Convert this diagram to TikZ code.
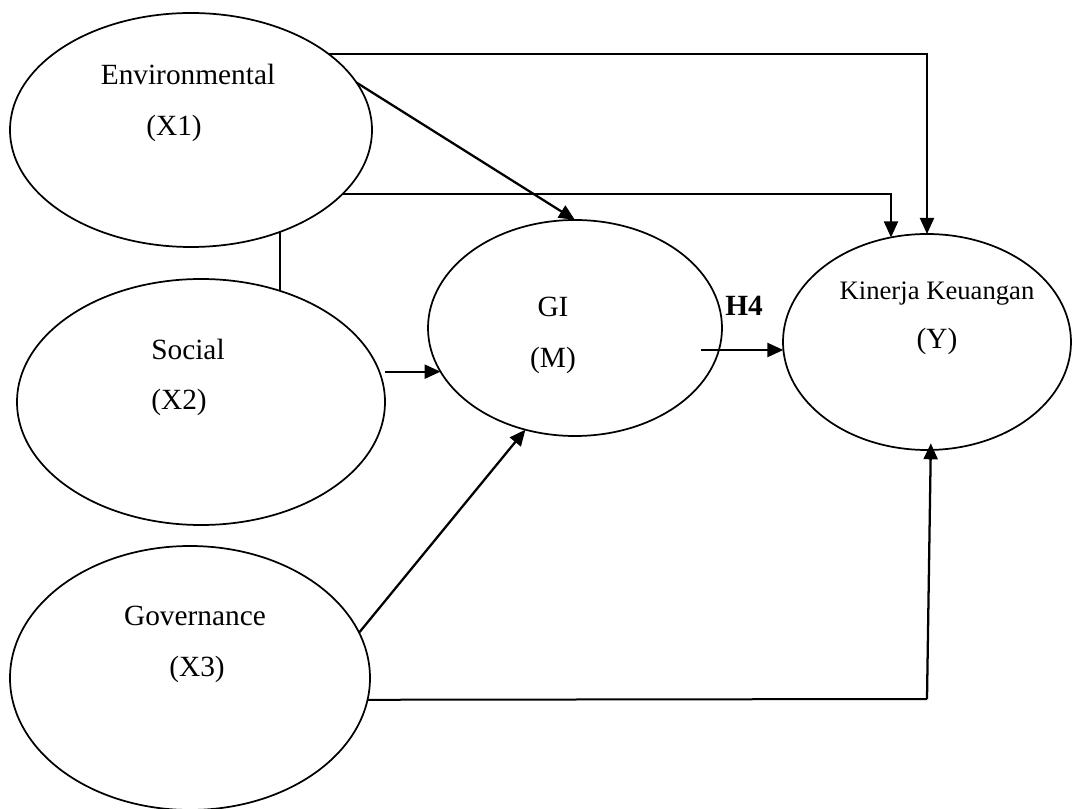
\documentclass[tikz,border=0pt]{standalone}
\usepackage{fontspec}
\setmainfont{Liberation Serif}
\usetikzlibrary{arrows.meta,calc,shapes.geometric}
\begin{document}
\begin{tikzpicture}[x=0.75pt,y=-0.75pt,
  oval/.style={draw,ellipse,line width=1.3pt,inner sep=0pt,outer sep=0pt},
  lbl/.style={anchor=base,inner sep=0pt,font=\fontsize{22}{26}\selectfont},
  conn/.style={line width=1.5pt},
  arr/.style={line width=1.7pt,-{Triangle[length=12pt,width=10.5pt]}}]
\useasboundingbox (0,0) rectangle (1072,809);
% ellipses
\node[oval,minimum width=271.5pt,minimum height=175.5pt] (env) at (191,130) {};
\node[oval,minimum width=276pt,minimum height=184.5pt] (soc) at (201,402) {};
\node[oval,minimum width=270pt,minimum height=198pt] (gov) at (190,678) {};
\node[oval,minimum width=220.5pt,minimum height=162pt] (gi) at (575,328) {};
\node[oval,minimum width=216pt,minimum height=162pt] (kin) at (927,342) {};
% labels
\node[lbl] (tenv) at (188,85) {Environmental};
\node[lbl] (tx1) at (174,136) {(X1)};
\node[lbl] (tsoc) at (188,360) {Social};
\node[lbl] (tx2) at (179,410) {(X2)};
\node[lbl] (tgov) at (195,625) {Governance};
\node[lbl] (tx3) at (197,676) {(X3)};
\node[lbl] (tgi) at (553,317) {GI};
\node[lbl] (tm) at (553,368) {(M)};
\node[lbl,font=\fontsize{22}{26}\selectfont\bfseries] (th4) at (744,316) {H4};
\node[lbl,font=\fontsize{20}{24}\selectfont] (tkin) at (937,300) {Kinerja Keuangan};
\node[lbl] (ty) at (937,349) {(Y)};
% connectors
\draw[conn,-{Triangle[length=12pt,width=10.5pt]}] (env.29) -| (kin.north);
\draw[conn,-{Triangle[length=12pt,width=10.5pt]}] (env.-23) -| (kin.109);
\draw[arr] (env.16) -- (gi.north);
\draw[conn] (env.-49) -- (env.-49 |- soc.55);
\draw[arr] (soc.east |- gi.198) -- (gi.198);
\coordinate (h4s) at (701,350);
\draw[arr] (h4s) -- (h4s -| kin.183);
\draw[arr] (gov.15) -- (gi.244);
\coordinate (bc) at (927,699);
\draw[conn] (gov.-7) -- (bc);
\draw[arr,shorten >=-5pt] (bc) -- (kin.272);
\end{tikzpicture}
\end{document}
